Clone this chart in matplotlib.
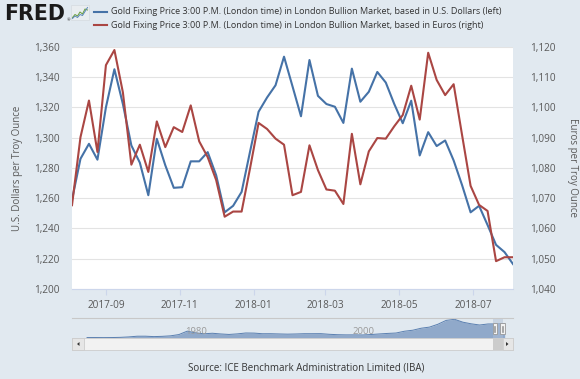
import datetime as dt
import numpy as np
import matplotlib
matplotlib.use("Agg")
import matplotlib.pyplot as plt
import matplotlib.dates as mdates
import matplotlib.transforms as mtransforms
from matplotlib.patches import Rectangle, Polygon
from matplotlib.ticker import FuncFormatter

# ---------------- data ----------------
start_date = dt.date(2017, 8, 4)
n_weeks = 53
dates = [start_date + dt.timedelta(weeks=i) for i in range(n_weeks)]

usd_values = [1259, 1286.1, 1296, 1285.5, 1320.1, 1345.3, 1322.3, 1294.9, 1283.5, 1262,
              1299.3, 1281.8, 1266.9, 1267.3, 1284.4, 1284.4, 1290.5, 1275.2, 1250.7, 1255,
              1264.2, 1291, 1317.2, 1326.6, 1334.7, 1353.6, 1334.0, 1314.2, 1351.4, 1327.7,
              1322.3, 1320.5, 1309.8, 1345.7, 1323.8, 1330.4, 1343.5, 1336.5, 1322.3, 1309.6,
              1324.5, 1288.3, 1303.7, 1294.5, 1298.2, 1285, 1268.6, 1250.7, 1255, 1242.3,
              1229.2, 1224.4, 1216.5]

eur_values = [1067.7, 1090.2, 1102.3, 1085.3, 1114.0, 1119.0, 1105.0, 1081.1, 1087.7, 1078.7,
              1095.4, 1086.9, 1093.5, 1091.9, 1100.7, 1088.8, 1083.6, 1076.0, 1063.9, 1065.6,
              1065.6, 1080.0, 1094.9, 1092.9, 1089.7, 1087.7, 1071.0, 1072.1, 1087.5, 1079.3,
              1072.9, 1072.5, 1068.1, 1091.3, 1074.6, 1085.5, 1089.9, 1089.7, 1093.8, 1097.5,
              1107.2, 1096.0, 1118.1, 1109.1, 1104.1, 1107.7, 1090.8, 1074.1, 1067.8, 1065.8,
              1049.2, 1050.5, 1050.5]

# navigator (long history, annual averages, USD)
nav_years = list(range(1968, 2019))
nav_prices = [39, 41, 36, 41, 58, 97, 159, 161, 125, 148, 193, 307, 612, 460, 376, 424, 361,
              317, 368, 447, 437, 381, 383, 362, 344, 360, 384, 384, 388, 331, 294, 279, 279,
              271, 310, 363, 409, 445, 604, 695, 872, 972, 1225, 1572, 1669, 1411, 1266, 1160,
              1251, 1257, 1280]
nav_tick_years = [1980, 2000]

left_ticks = list(range(1200, 1361, 20))
right_ticks = list(range(1040, 1121, 10))
x_tick_dates = [dt.date(2017, 9, 1), dt.date(2017, 11, 1), dt.date(2018, 1, 1),
                dt.date(2018, 3, 1), dt.date(2018, 5, 1), dt.date(2018, 7, 1)]

label_usd = "Gold Fixing Price 3:00 P.M. (London time) in London Bullion Market, based in U.S. Dollars (left)"
label_eur = "Gold Fixing Price 3:00 P.M. (London time) in London Bullion Market, based in Euros (right)"
ylabel_left = "U.S. Dollars per Troy Ounce"
ylabel_right = "Euros per Troy Ounce"
source_text = "Source: ICE Benchmark Administration Limited (IBA)"

# ---------------- style ----------------
BG = "#e1e9f0"
BLUE = "#4572a7"
RED = "#aa4643"
TXT = "#595959"
FONT = ["Open Sans", "DejaVu Sans"]
plt.rcParams["font.family"] = FONT

W, H = 580, 379
fig = plt.figure(figsize=(W / 100, H / 100), dpi=100, facecolor=BG)

def fx(px):
    return px / W

def fy(py):
    return 1 - py / H

# main axes
L, R, T, B = 72, 513, 47, 289
ax = fig.add_axes([fx(L), fy(B), fx(R - L), (B - T) / H])
ax.set_facecolor("white")
ax.plot(dates, usd_values, color=BLUE, lw=1.5, zorder=3)
ax.set_ylim(1200, 1360)
ax.set_yticks(left_ticks)
ax.yaxis.set_major_formatter(FuncFormatter(lambda v, p: f"{int(v):,}"))
ax.set_xlim(dates[0], dates[-1])
ax.set_xticks(x_tick_dates)
ax.xaxis.set_major_formatter(mdates.DateFormatter("%Y-%m"))
ax.grid(axis="y", color="#e3e3e3", lw=0.8, zorder=0)
for s in ["top", "left", "right"]:
    ax.spines[s].set_visible(False)
ax.spines["bottom"].set_color("#ccd6eb")
ax.spines["bottom"].set_linewidth(0.8)
ax.tick_params(axis="x", colors="#ccd6eb", length=4, width=0.8, pad=4, labelsize=7.2,
               labelcolor=TXT)
ax.tick_params(axis="y", length=0, pad=9, labelsize=7.2, labelcolor=TXT)
ax.set_ylabel(ylabel_left, fontsize=7, color=TXT, labelpad=8)

ax2 = ax.twinx()
ax2.plot(dates, eur_values, color=RED, lw=1.5, zorder=3)
ax2.set_ylim(1040, 1120)
ax2.set_yticks(right_ticks)
ax2.yaxis.set_major_formatter(FuncFormatter(lambda v, p: f"{int(v):,}"))
for s in ["top", "left", "right", "bottom"]:
    ax2.spines[s].set_visible(False)
ax2.tick_params(axis="y", length=0, pad=12, labelsize=7.2, labelcolor=TXT)
ax2.set_ylabel(ylabel_right, fontsize=7, color=TXT, rotation=270, labelpad=16)

# navigator
NT, NB = 318, 338
axn = fig.add_axes([fx(L), fy(NB), fx(R - L), (NB - NT) / H])
axn.set_facecolor(BG)
nav_x = [y + 0.5 for y in nav_years]
axn.fill_between(nav_x, nav_prices, 0, color="#90a9ca", lw=0)
axn.plot(nav_x, nav_prices, color="#5a7fb0", lw=0.7)
axn.set_xlim(1966.7, 2019.5)
axn.set_ylim(0, 1785)
axn.axis("off")
for yr in nav_tick_years:
    axn.text(yr + 0.3, 0.3, str(yr), transform=mtransforms.blended_transform_factory(axn.transData, axn.transAxes),
             fontsize=6.8, color="#9a9a9a", ha="left", va="center")

# overlay for decorations
ov = fig.add_axes([0, 0, 1, 1], zorder=10)
ov.set_xlim(0, W)
ov.set_ylim(H, 0)
ov.axis("off")
ov.patch.set_alpha(0)

# navigator top line
ov.plot([L, R], [NT, NT], color="#c8c8c8", lw=0.8)
# scrollbar
ov.add_patch(Rectangle((L, 338), R - L, 12, facecolor="#f2f2f2", edgecolor="#cccccc", lw=0.6))
ov.add_patch(Rectangle((L, 338), 12, 12, facecolor="#e6e6e6", edgecolor="#cccccc", lw=0.6))
ov.add_patch(Rectangle((R - 10, 338), 10, 12, facecolor="#e6e6e6", edgecolor="#cccccc", lw=0.6))
ov.add_patch(Polygon([(77, 344), (79.5, 342), (79.5, 346)], closed=True, color="#333333", lw=0))
ov.add_patch(Polygon([(508.5, 344), (506, 342), (506, 346)], closed=True, color="#333333", lw=0))
ov.add_patch(Rectangle((493, 338), 10, 12, facecolor="#cccccc", edgecolor="none"))
ov.add_patch(Rectangle((493, NT), 10, 20, facecolor="#b0c0d6", edgecolor="none", alpha=0.5))
for hx in (492.5, 500):
    ov.add_patch(Rectangle((hx, 323), 4.5, 11, facecolor="#f2f2f2", edgecolor="#999999", lw=0.6))
    ov.plot([hx + 1.8, hx + 1.8], [325.5, 331.5], color="#888888", lw=0.5)
    ov.plot([hx + 2.8, hx + 2.8], [325.5, 331.5], color="#888888", lw=0.5)

# FRED logo
ov.text(4.5, 13.5, "FRED", fontsize=14.8, fontweight="bold", color="#1a1a1a", ha="left", va="center",
        family=["DejaVu Sans"])
ov.text(66.5, 20.5, "®", fontsize=3, color="#1a1a1a", ha="left", va="center")
ov.add_patch(Rectangle((71, 5), 18, 15, facecolor="#e9edf0", edgecolor="#d5dbe0", lw=0.5))
ov.plot([72.5, 75, 77.5, 80, 82.5, 85, 87.5], [17.5, 14.5, 16, 12, 14, 9, 10], color="#6a9f3a", lw=0.7)
ov.plot([72.5, 75, 77.5, 80, 82.5, 85, 87.5], [18.5, 16, 17.5, 14.5, 15.5, 11.5, 7.5], color="#5a86b8", lw=0.7)

# legend
for yy, col, lab in ((12, BLUE, label_usd), (25, RED, label_eur)):
    ov.plot([94, 107], [yy, yy], color=col, lw=1.5)
    ov.text(111, yy, lab, fontsize=6.45, color="#333333", ha="left", va="center")

# source
ov.text(306, 368, source_text, fontsize=7, color="#333333", ha="center", va="center")

fig.savefig("out.png", dpi=100, facecolor=BG)
